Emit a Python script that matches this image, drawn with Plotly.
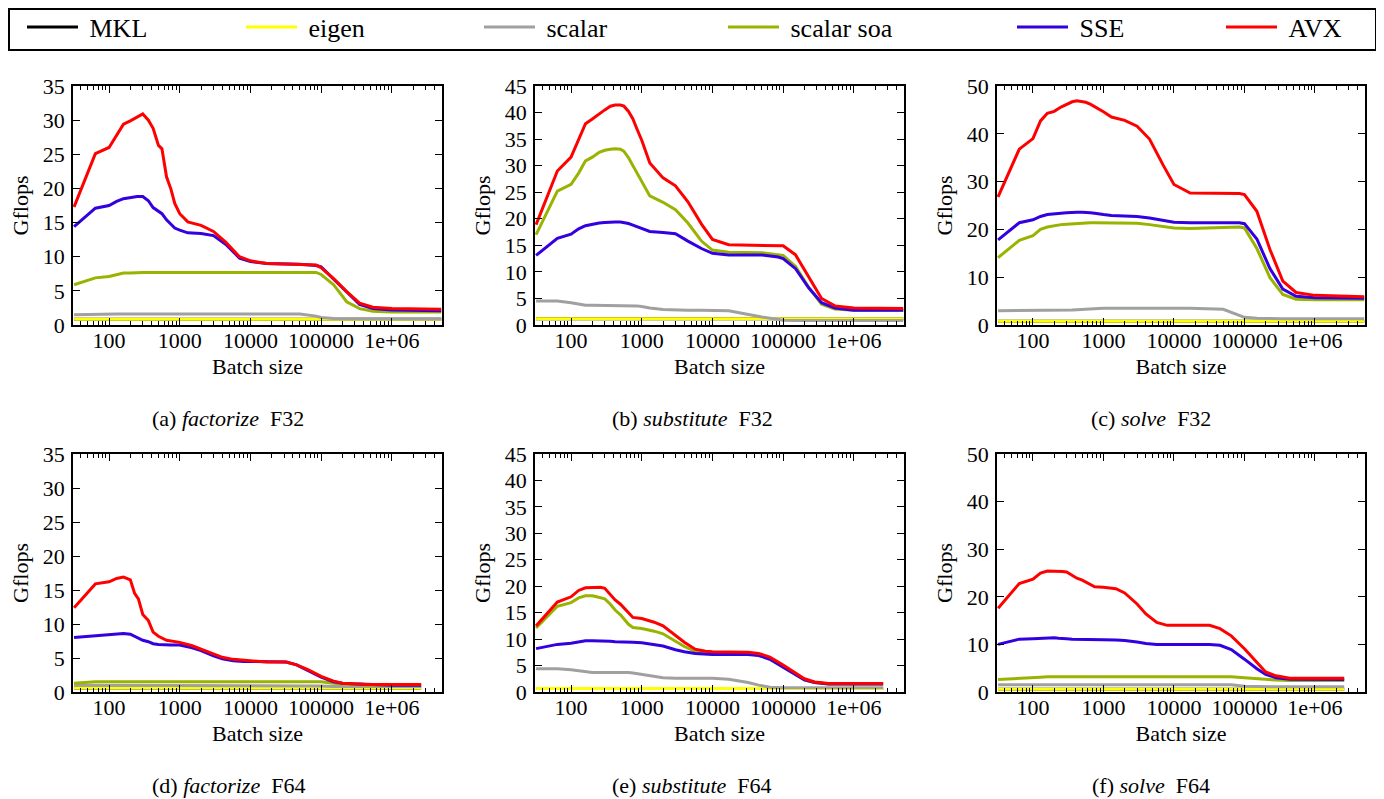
import plotly.graph_objects as go

# the page body keeps its default 8px margin, so the figure starts 8px in from the corner
PAGE_MARGIN = 8
W, H = 1376, 791

SERIES = ["MKL", "eigen", "scalar", "scalar soa", "SSE", "AVX"]
COLORS = ["#000000", "#ffff00", "#a0a0a0", "#99b300", "#3300e0", "#ff0000"]

# batch sizes (F32 runs go further than F64 runs)
X32 = [32, 64, 100, 128, 160, 200, 250, 300, 360, 420, 500, 560, 650, 750, 850, 1000,
       1300, 2000, 3000, 4500, 7000, 10000, 17000, 50000, 85000, 100000, 150000,
       230000, 350000, 540000, 1000000, 5000000]
X64 = [32, 64, 100, 128, 160, 200, 230, 260, 300, 360, 420, 500, 650, 750, 1000, 1500,
       2000, 3000, 4000, 5700, 8000, 10000, 17000, 32000, 45000, 65000, 100000, 150000,
       200000, 280000, 440000, 1000000, 2600000]
ENDS32 = [32, 5000000]
ENDS64 = [32, 2600000]

# (a) factorize F32
fact32_mkl = [0.85, 0.85]
fact32_eigen = [0.85, 0.85]
fact32_scalar = [1.5, 1.6, 1.6, 1.6, 1.6, 1.6, 1.6, 1.6, 1.6, 1.6, 1.6, 1.6, 1.6, 1.6, 1.6, 1.6,
                 1.6, 1.6, 1.6, 1.6, 1.6, 1.6, 1.6, 1.6, 1.3, 1.1, 0.95, 0.9, 0.9, 0.9, 0.9, 0.9]
fact32_soa = [5.9, 6.9, 7.1, 7.4, 7.6, 7.6, 7.7, 7.7, 7.7, 7.7, 7.7, 7.7, 7.7, 7.7, 7.7, 7.7,
              7.7, 7.7, 7.7, 7.7, 7.7, 7.7, 7.7, 7.7, 7.7, 7.4, 5.9, 3.4, 2.4, 2.0, 1.9, 1.9]
fact32_sse = [14.4, 17.1, 17.5, 18.1, 18.5, 18.7, 18.8, 18.8, 18.2, 17.2, 16.6, 16.3, 15.4, 14.7, 14.2, 13.9,
              13.5, 13.4, 13.1, 11.8, 9.8, 9.3, 9.0, 8.9, 8.7, 8.5, 6.7, 4.8, 3.0, 2.4, 2.2, 2.1]
fact32_avx = [17.3, 25.1, 26.0, 27.8, 29.4, 29.9, 30.5, 30.9, 30.0, 28.8, 26.3, 25.8, 21.7, 19.9, 17.8, 16.3,
              15.1, 14.6, 13.7, 12.1, 10.0, 9.4, 9.0, 8.9, 8.8, 8.4, 6.8, 4.9, 3.2, 2.6, 2.4, 2.3]

# (b) substitute F32
sub32_mkl = [1.2, 1.2]
sub32_eigen = [1.2, 1.2]
sub32_scalar = [4.5, 4.5, 4.2, 3.9, 3.7, 3.7, 3.7, 3.7, 3.7, 3.7, 3.7, 3.7, 3.7, 3.6, 3.6, 3.5,
                3.2, 2.9, 2.8, 2.8, 2.8, 2.8, 2.7, 1.5, 1.0, 0.9, 0.85, 0.85, 0.85, 0.85, 0.85, 0.85]
sub32_soa = [17.0, 25.2, 26.5, 28.6, 30.9, 31.6, 32.5, 32.9, 33.1, 33.2, 33.1, 32.7, 31.5, 30.0, 28.5, 26.9,
             24.3, 23.1, 21.7, 19.2, 15.8, 14.1, 13.7, 13.6, 13.3, 13.1, 11.0, 7.1, 3.9, 3.0, 2.8, 2.8]
sub32_sse = [13.1, 16.3, 17.1, 18.1, 18.7, 19.0, 19.2, 19.3, 19.4, 19.4, 19.4, 19.3, 19.1, 18.8, 18.5, 18.2,
             17.6, 17.4, 17.2, 15.8, 14.4, 13.5, 13.2, 13.2, 12.8, 12.5, 10.6, 7.0, 4.2, 3.2, 2.8, 2.8]
sub32_avx = [18.9, 29.0, 31.6, 35.0, 37.9, 38.8, 39.8, 40.5, 41.2, 41.4, 41.4, 41.2, 40.2, 38.8, 37.0, 34.8,
             30.5, 27.7, 26.2, 23.2, 19.0, 16.1, 15.1, 15.0, 14.9, 14.9, 13.2, 9.0, 5.0, 3.6, 3.2, 3.1]

# (c) solve F32
sol32_mkl = [0.8, 0.8]
sol32_eigen = [0.8, 0.8]
sol32_scalar = [3.0, 3.0, 3.0, 3.0, 3.0, 3.0, 3.05, 3.1, 3.15, 3.2, 3.3, 3.3, 3.35, 3.4, 3.45, 3.5,
                3.5, 3.5, 3.5, 3.5, 3.5, 3.5, 3.5, 3.3, 2.1, 1.6, 1.4, 1.3, 1.3, 1.3, 1.3, 1.3]
sol32_soa = [14.1, 17.7, 18.7, 20.0, 20.5, 20.8, 21.0, 21.1, 21.2, 21.3, 21.4, 21.4, 21.4, 21.4, 21.4, 21.4,
             21.4, 21.4, 21.3, 21.0, 20.6, 20.3, 20.2, 20.5, 20.5, 20.3, 16.0, 9.9, 6.4, 5.4, 5.3, 5.3]
sol32_sse = [17.8, 21.4, 22.0, 22.7, 23.1, 23.3, 23.4, 23.5, 23.6, 23.6, 23.6, 23.6, 23.5, 23.4, 23.2, 23.1,
             22.9, 22.8, 22.7, 22.4, 21.9, 21.5, 21.4, 21.5, 21.4, 21.2, 18.0, 11.8, 7.5, 6.0, 5.7, 5.6]
sol32_avx = [26.8, 36.8, 39.0, 42.7, 44.3, 44.7, 45.6, 46.2, 46.7, 46.9, 46.8, 46.6, 46.2, 45.7, 45.2, 44.6,
             43.5, 42.8, 41.6, 38.9, 33.5, 29.4, 27.6, 27.5, 27.5, 27.3, 23.8, 15.8, 9.2, 6.8, 6.2, 5.9]

# (d) factorize F64
fact64_mkl = [0.6, 0.6]
fact64_eigen = [0.6, 0.6]
fact64_scalar = [1.0, 1.0, 1.0, 1.0, 1.0, 1.0, 1.0, 1.0, 1.0, 1.0, 1.0, 1.0, 1.0, 1.0, 1.0, 1.0, 1.0,
                 1.0, 1.0, 1.0, 1.0, 1.0, 1.0, 1.0, 1.0, 1.0, 0.9, 0.8, 0.8, 0.8, 0.8, 0.8, 0.8]
fact64_soa = [1.3, 1.5, 1.5, 1.5, 1.5, 1.5, 1.5, 1.5, 1.5, 1.5, 1.5, 1.5, 1.5, 1.5, 1.5, 1.5, 1.5,
              1.5, 1.5, 1.5, 1.5, 1.5, 1.5, 1.5, 1.5, 1.5, 1.5, 1.3, 1.2, 1.1, 1.0, 1.0, 1.0]
fact64_sse = [8.0, 8.3, 8.4, 8.5, 8.6, 8.5, 8.2, 8.0, 7.6, 7.4, 7.1, 7.0, 6.9, 6.9, 6.9, 6.5, 6.1,
              5.3, 4.9, 4.6, 4.5, 4.5, 4.4, 4.4, 4.0, 3.2, 2.2, 1.5, 1.3, 1.2, 1.1, 1.0, 1.0]
fact64_avx = [12.4, 15.9, 16.2, 16.7, 16.9, 16.5, 14.5, 13.7, 11.4, 10.5, 8.8, 8.2, 7.6, 7.5, 7.3, 6.8, 6.3,
              5.5, 5.1, 4.8, 4.7, 4.6, 4.4, 4.4, 4.0, 3.3, 2.3, 1.6, 1.3, 1.2, 1.1, 1.1, 1.1]

# (e) substitute F64
sub64_mkl = [0.65, 0.65]
sub64_eigen = [0.65, 0.65]
sub64_scalar = [4.4, 4.4, 4.2, 4.0, 3.8, 3.7, 3.7, 3.7, 3.7, 3.8, 3.8, 3.8, 3.7, 3.6, 3.3, 3.0, 2.7,
                2.6, 2.6, 2.6, 2.6, 2.6, 2.4, 1.8, 1.3, 0.9, 0.8, 0.8, 0.8, 0.8, 0.8, 0.8, 0.8]
sub64_soa = [12.1, 16.2, 16.9, 17.8, 18.2, 18.2, 18.0, 17.8, 17.6, 16.6, 15.5, 14.6, 12.8, 12.2, 12.0, 11.5, 11.0,
             9.6, 8.6, 7.7, 7.4, 7.3, 7.2, 7.2, 7.0, 6.2, 4.8, 3.4, 2.3, 1.8, 1.5, 1.5, 1.5]
sub64_sse = [8.2, 9.0, 9.2, 9.5, 9.7, 9.7, 9.7, 9.7, 9.7, 9.6, 9.5, 9.5, 9.4, 9.4, 9.3, 9.0, 8.7,
             8.0, 7.6, 7.3, 7.2, 7.1, 7.1, 7.1, 6.9, 6.2, 4.7, 3.3, 2.3, 1.8, 1.5, 1.5, 1.5]
sub64_avx = [12.5, 17.0, 18.0, 19.2, 19.7, 19.8, 19.8, 19.8, 19.6, 18.3, 17.4, 16.6, 14.9, 14.1, 13.9, 13.2, 12.5,
             10.6, 9.4, 8.1, 7.7, 7.6, 7.6, 7.5, 7.3, 6.6, 5.1, 3.6, 2.5, 1.9, 1.6, 1.6, 1.6]

# (f) solve F64
sol64_mkl = [0.6, 0.6]
sol64_eigen = [0.6, 0.6]
sol64_scalar = [1.5, 1.5, 1.5, 1.5, 1.5, 1.5, 1.5, 1.5, 1.5, 1.5, 1.5, 1.5, 1.5, 1.5, 1.5, 1.5, 1.5,
                1.5, 1.5, 1.5, 1.5, 1.5, 1.5, 1.5, 1.5, 1.5, 1.2, 1.1, 1.1, 1.1, 1.1, 1.1, 1.1]
sol64_soa = [2.6, 2.8, 2.9, 3.1, 3.2, 3.2, 3.2, 3.2, 3.2, 3.2, 3.2, 3.2, 3.2, 3.2, 3.2, 3.2, 3.2,
             3.2, 3.2, 3.2, 3.2, 3.2, 3.2, 3.2, 3.2, 3.2, 3.0, 2.8, 2.6, 2.5, 2.4, 2.4, 2.4]
sol64_sse = [10.0, 11.1, 11.2, 11.3, 11.4, 11.4, 11.3, 11.3, 11.2, 11.1, 11.1, 11.0, 11.0, 11.0, 11.0, 10.9, 10.8,
             10.5, 10.2, 10.0, 10.0, 10.0, 10.0, 10.0, 9.8, 8.9, 6.9, 4.9, 3.7, 3.0, 2.7, 2.6, 2.6]
sol64_avx = [17.6, 22.8, 23.7, 25.0, 25.4, 25.4, 25.4, 25.3, 25.2, 24.5, 23.9, 23.5, 22.6, 22.1, 22.0, 21.7, 20.8,
             18.5, 16.4, 14.6, 14.0, 14.0, 14.0, 14.0, 13.3, 11.8, 9.1, 6.2, 4.2, 3.4, 2.9, 2.9, 2.9]

XTICKS = [100, 1000, 10000, 100000, 1000000]
XTICKTEXT = ["100", "1000", "10000", "100000", "1e+06"]

# label, operation, precision, batch sizes, flat-line ends, series, y max, y step
panels = [
    ("(a)", "factorize", "F32", X32, ENDS32, [fact32_mkl, fact32_eigen, fact32_scalar, fact32_soa, fact32_sse, fact32_avx], 35, 5),
    ("(b)", "substitute", "F32", X32, ENDS32, [sub32_mkl, sub32_eigen, sub32_scalar, sub32_soa, sub32_sse, sub32_avx], 45, 5),
    ("(c)", "solve", "F32", X32, ENDS32, [sol32_mkl, sol32_eigen, sol32_scalar, sol32_soa, sol32_sse, sol32_avx], 50, 10),
    ("(d)", "factorize", "F64", X64, ENDS64, [fact64_mkl, fact64_eigen, fact64_scalar, fact64_soa, fact64_sse, fact64_avx], 35, 5),
    ("(e)", "substitute", "F64", X64, ENDS64, [sub64_mkl, sub64_eigen, sub64_scalar, sub64_soa, sub64_sse, sub64_avx], 45, 5),
    ("(f)", "solve", "F64", X64, ENDS64, [sol64_mkl, sol64_eigen, sol64_scalar, sol64_soa, sol64_sse, sol64_avx], 50, 10),
]

# positions on the page in pixels: plot frames, captions, legend samples
col_px = [(73, 442), (535, 904), (997, 1365)]
row_px = [(86, 325), (454, 692)]
caption_x = [228, 692, 1151]
caption_y = [418, 785]
legend_px = [22, 241, 479, 723, 1012, 1221]


def fx(px):
    return (px - PAGE_MARGIN) / W


def fy(px):
    return 1 - (px - PAGE_MARGIN) / H


FONT = "Liberation Serif"
NBSP = "\u00a0"

fig = go.Figure()
layout = {}
annotations = []

for p, (lab, op, prec, xs, ends, ys, ymax, ystep) in enumerate(panels):
    r, c = divmod(p, 3)
    n = "" if p == 0 else str(p + 1)
    for i, name in enumerate(SERIES):
        fig.add_trace(go.Scatter(
            x=ends if i < 2 else xs, y=ys[i], mode="lines", name=NBSP + name,
            line=dict(color=COLORS[i], width=3),
            xaxis="x" + n, yaxis="y" + n,
            legend="legend" if i == 0 else "legend%d" % (i + 1),
            showlegend=(p == 0),
        ))
    l, rr = col_px[c]
    t, b = row_px[r]
    layout["xaxis" + n] = dict(
        domain=[fx(l), fx(rr)], anchor="y" + n, type="log", range=[1.49, 6.71],
        tickvals=XTICKS, ticktext=XTICKTEXT, ticks="inside", ticklen=7, tickwidth=1,
        tickcolor="black", mirror="allticks", showline=True, linecolor="black", linewidth=1.5,
        showgrid=False, zeroline=False, ticklabelstandoff=-5, automargin=False,
        minor=dict(tickvals=[m * 10 ** e for e in range(1, 7) for m in range(2, 10)],
                   ticks="inside", ticklen=4, tickcolor="black", showgrid=False),
        tickfont=dict(family=FONT, size=22, color="black"),
        title=dict(text="Batch size", font=dict(family=FONT, size=22, color="black"), standoff=6),
    )
    layout["yaxis" + n] = dict(
        domain=[fy(b), fy(t)], anchor="x" + n, range=[0, ymax], dtick=ystep,
        ticks="inside", ticklen=7, tickwidth=1, tickcolor="black", mirror="allticks",
        showline=True, linecolor="black", linewidth=1.5, showgrid=False, zeroline=False,
        ticklabelstandoff=2, automargin=False,
        tickfont=dict(family=FONT, size=22, color="black"),
        title=dict(text="Gflops", font=dict(family=FONT, size=22, color="black"), standoff=8),
    )
    annotations.append(dict(
        text="%s <i>%s</i>  %s" % (lab, op, prec), x=fx(caption_x[c]), y=fy(caption_y[r]),
        xref="paper", yref="paper", showarrow=False, xanchor="center", yanchor="middle",
        font=dict(family=FONT, size=22, color="black"),
    ))

for i in range(len(SERIES)):
    key = "legend" if i == 0 else "legend%d" % (i + 1)
    layout[key] = dict(
        x=fx(legend_px[i]), xanchor="left", y=fy(27), yanchor="middle",
        orientation="h", itemwidth=51, bgcolor="rgba(0,0,0,0)", borderwidth=0,
        font=dict(family=FONT, size=26, color="black"),
    )

fig.update_layout(
    width=W, height=H, autosize=False,
    margin=dict(l=0, r=0, t=0, b=0, autoexpand=False),
    paper_bgcolor="white", plot_bgcolor="white",
    annotations=annotations,
    shapes=[dict(type="rect", xref="paper", yref="paper",
                 x0=fx(9), x1=fx(1376), y0=fy(50), y1=fy(9),
                 line=dict(color="black", width=2))],
    **layout,
)

fig.write_html("out.html")
